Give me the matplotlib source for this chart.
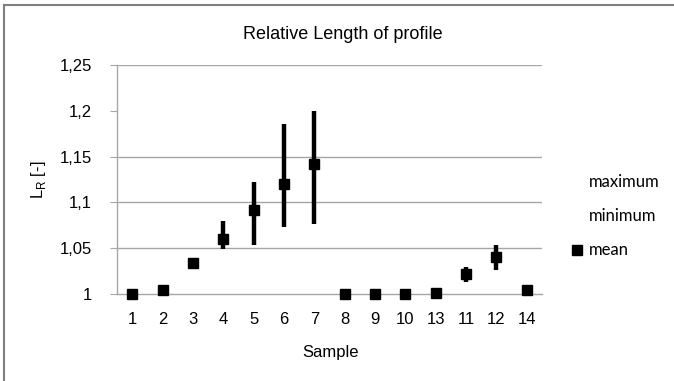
import matplotlib
matplotlib.use("Agg")
import matplotlib.pyplot as plt
from matplotlib.lines import Line2D
import numpy as np

plt.rcParams['font.family'] = ['Liberation Sans', 'DejaVu Sans']

samples = ["1", "2", "3", "4", "5", "6", "7", "8", "9", "10", "13", "11", "12", "14"]
mean = [1.000, 1.004, 1.0335, 1.060, 1.092, 1.120, 1.142, 1.000, 1.0003, 1.0003, 1.0015, 1.022, 1.040, 1.0044]
maximum = [1.000, 1.004, 1.039, 1.080, 1.122, 1.186, 1.200, 1.000, 1.0003, 1.0003, 1.0015, 1.029, 1.0535, 1.0044]
minimum = [1.000, 1.004, 1.028, 1.049, 1.0535, 1.0735, 1.076, 1.000, 1.0003, 1.0003, 1.0015, 1.0134, 1.026, 1.0044]
yticks = [1.0, 1.05, 1.1, 1.15, 1.2, 1.25]
ytick_labels = ["1", "1,05", "1,1", "1,15", "1,2", "1,25"]
grid_values = [1.05, 1.1, 1.15, 1.25]

W, H = 674, 381
fig = plt.figure(figsize=(W / 100, H / 100), dpi=100)
ax = fig.add_axes([117 / W, 1 - 294 / H, (542 - 117) / W, (294 - 65) / H])

x = np.arange(len(samples))
ax.vlines(x, minimum, maximum, color='black', linewidth=3.2, zorder=3)
ax.plot(x, mean, linestyle='none', marker='s', markersize=7, color='black', zorder=4,
        clip_on=False)

for g in grid_values:
    ax.axhline(g, color='#a6a6a6', linewidth=1.0, zorder=1)

ax.set_xlim(-0.5, len(samples) - 0.5)
ax.set_ylim(1.0, 1.25)
ax.set_yticks(yticks)
ax.set_yticklabels(ytick_labels, fontsize=12)
ax.set_xticks(x)
ax.set_xticklabels(samples, fontsize=12)
ax.tick_params(axis='x', length=0, pad=13)
ax.tick_params(axis='y', length=5, width=0.8, color='#a6a6a6', pad=13)

for s in ['top', 'right']:
    ax.spines[s].set_visible(False)
for s in ['left', 'bottom']:
    ax.spines[s].set_color('#a6a6a6')
    ax.spines[s].set_linewidth(1.0)

fig.text(331 / W, 1 - 352 / H, "Sample", fontsize=12, ha='center', va='center')
fig.text(38 / W, 1 - 180 / H, r"L$_\mathregular{R}$ [-]", rotation=90, fontsize=12,
         ha='center', va='center')
fig.text(343 / W, 1 - 39 / H, "Relative Length of profile", fontsize=13,
         ha='center', va='baseline')

handles = [Line2D([], [], linestyle='none', marker=None, color='white'),
           Line2D([], [], linestyle='none', marker=None, color='white'),
           Line2D([], [], linestyle='none', marker='s', markersize=7, color='black')]
leg = fig.legend(handles, ["maximum", "minimum", "mean"], loc='center left',
                 bbox_to_anchor=(564 / W, 1 - 216 / H), frameon=False,
                 prop={'family': 'Lato', 'size': 12}, handlelength=0.8,
                 handletextpad=0.3, labelspacing=1.1, borderaxespad=0)

# chart area border (left and top visible)
fig.add_artist(Line2D([4 / W, 4 / W], [0, 1 - 5 / H], transform=fig.transFigure,
                      color='#808080', linewidth=1.5))
fig.add_artist(Line2D([4 / W, 1], [1 - 5 / H, 1 - 5 / H], transform=fig.transFigure,
                      color='#808080', linewidth=1.5))

fig.savefig("out.png", dpi=100)
